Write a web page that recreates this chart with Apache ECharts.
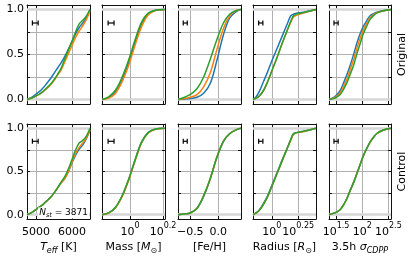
<!DOCTYPE html>
<html><head><meta charset="utf-8">
<script src="https://cdn.jsdelivr.net/npm/echarts@6/dist/echarts.min.js"></script>
<style>html,body{margin:0;padding:0;background:#fff}#c{width:415px;height:258px}</style>
</head><body><div id="c"></div><script>
// ---------------- data ----------------
const rowNames = ['Original', 'Control'];
const nStars = 3871;

const teffX = [4750, 4900, 5000, 5100, 5200, 5300, 5400, 5500, 5600, 5700, 5800, 5900, 6000, 6100, 6200, 6300, 6400, 6500];
const teffOrigBlue   = [0, 0.03, 0.06, 0.09, 0.13, 0.18, 0.23, 0.29, 0.35, 0.41, 0.48, 0.56, 0.64, 0.73, 0.80, 0.85, 0.91, 1.0];
const teffOrigOrange = [0, 0.02, 0.04, 0.06, 0.09, 0.12, 0.16, 0.21, 0.27, 0.33, 0.42, 0.51, 0.60, 0.69, 0.76, 0.82, 0.89, 0.98];
const teffOrigGreen  = [0, 0.02, 0.04, 0.06, 0.09, 0.13, 0.17, 0.22, 0.28, 0.35, 0.45, 0.55, 0.65, 0.75, 0.84, 0.88, 0.93, 1.0];
const teffCtrlBlue   = [0, 0.03, 0.06, 0.09, 0.12, 0.16, 0.20, 0.25, 0.31, 0.37, 0.42, 0.50, 0.60, 0.69, 0.76, 0.81, 0.88, 0.98];
const teffCtrlOrange = [0, 0.03, 0.06, 0.09, 0.12, 0.16, 0.20, 0.25, 0.31, 0.37, 0.42, 0.50, 0.61, 0.71, 0.78, 0.83, 0.89, 0.98];
const teffCtrlGreen  = [0, 0.03, 0.06, 0.09, 0.12, 0.16, 0.20, 0.25, 0.31, 0.38, 0.44, 0.53, 0.64, 0.75, 0.83, 0.86, 0.91, 1.0];
const teffTicks = [5000, 6000];
const teffTickLabels = ['5000', '6000'];
const teffErr = [4980, 80];

const massX = [-0.17, -0.13, -0.09, -0.05, -0.01, 0.03, 0.07, 0.11, 0.15, 0.21];
const massOrigBlue   = [0, 0.02, 0.08, 0.21, 0.40, 0.63, 0.84, 0.95, 0.99, 1.0];
const massOrigOrange = [0, 0.015, 0.065, 0.19, 0.37, 0.60, 0.81, 0.94, 0.985, 1.0];
const massOrigGreen  = [0, 0.03, 0.10, 0.24, 0.43, 0.66, 0.86, 0.96, 0.99, 1.0];
const massCtrlBlue   = [0, 0.02, 0.08, 0.21, 0.40, 0.63, 0.84, 0.95, 0.99, 1.0];
const massCtrlOrange = [0, 0.02, 0.075, 0.20, 0.39, 0.62, 0.83, 0.945, 0.985, 1.0];
const massCtrlGreen  = [0, 0.02, 0.08, 0.21, 0.40, 0.63, 0.84, 0.95, 0.99, 1.0];
const massTicks = [0, 0.2];           // log10 positions
const massTickLabels = ['0', '0.2'];  // exponents
const massErr = [-0.115, 0.018];

const fehX = [-0.72, -0.6, -0.5, -0.38, -0.26, -0.14, -0.02, 0.095, 0.21, 0.33, 0.41];
const fehOrigBlue   = [0, 0.005, 0.012, 0.025, 0.07, 0.18, 0.44, 0.72, 0.91, 0.98, 1.0];
const fehOrigOrange = [0, 0.01, 0.025, 0.055, 0.14, 0.30, 0.56, 0.79, 0.93, 0.99, 1.0];
const fehOrigGreen  = [0, 0.025, 0.056, 0.12, 0.25, 0.45, 0.67, 0.85, 0.95, 0.99, 1.0];
const fehCtrlBlue   = [0, 0.01, 0.02, 0.07, 0.21, 0.42, 0.67, 0.85, 0.94, 0.985, 1.0];
const fehCtrlOrange = [0, 0.01, 0.02, 0.075, 0.22, 0.42, 0.67, 0.85, 0.94, 0.985, 1.0];
const fehCtrlGreen  = [0, 0.01, 0.02, 0.075, 0.22, 0.42, 0.67, 0.85, 0.94, 0.985, 1.0];
const fehTicks = [-0.5, 0.0];
const fehTickLabels = ['\u22120.5', '0.0'];
const fehErr = [-0.59, 0.036];

const radX = [-0.18, -0.15, -0.12, -0.08, -0.04, 0.0, 0.05, 0.1, 0.15, 0.18, 0.21, 0.3, 0.42];
const radOrigBlue   = [0, 0.03, 0.09, 0.20, 0.31, 0.43, 0.57, 0.71, 0.85, 0.93, 0.95, 0.97, 1.0];
const radOrigOrange = [0, 0.015, 0.04, 0.10, 0.20, 0.32, 0.47, 0.63, 0.78, 0.86, 0.92, 0.96, 1.0];
const radOrigGreen  = [0, 0.015, 0.04, 0.10, 0.20, 0.32, 0.47, 0.63, 0.78, 0.87, 0.935, 0.965, 1.0];
const radCtrlBlue   = [0, 0.02, 0.055, 0.13, 0.22, 0.34, 0.49, 0.64, 0.78, 0.87, 0.94, 0.965, 1.0];
const radCtrlOrange = [0, 0.02, 0.05, 0.12, 0.21, 0.33, 0.48, 0.63, 0.78, 0.86, 0.935, 0.96, 1.0];
const radCtrlGreen  = [0, 0.02, 0.05, 0.12, 0.21, 0.33, 0.48, 0.63, 0.78, 0.87, 0.94, 0.965, 1.0];
const radTicks = [0, 0.25];
const radTickLabels = ['0', '0.25'];
const radErr = [-0.106, 0.02];

const cdppX = [1.365, 1.45, 1.51, 1.58, 1.64, 1.71, 1.77, 1.84, 1.9, 1.96, 2.02, 2.09, 2.15, 2.22, 2.28, 2.41, 2.55];
const cdppOrigBlue   = [0, 0.02, 0.05, 0.10, 0.18, 0.28, 0.38, 0.51, 0.63, 0.73, 0.81, 0.88, 0.93, 0.955, 0.97, 0.99, 1.0];
const cdppOrigOrange = [0, 0.015, 0.035, 0.075, 0.14, 0.23, 0.33, 0.45, 0.57, 0.68, 0.77, 0.85, 0.91, 0.945, 0.965, 0.985, 1.0];
const cdppOrigGreen  = [0, 0.01, 0.025, 0.055, 0.11, 0.19, 0.28, 0.39, 0.51, 0.62, 0.73, 0.82, 0.89, 0.935, 0.96, 0.985, 1.0];
const cdppCtrlBlue   = [0, 0.015, 0.03, 0.06, 0.11, 0.19, 0.28, 0.38, 0.48, 0.58, 0.68, 0.77, 0.84, 0.90, 0.94, 0.98, 1.0];
const cdppCtrlOrange = [0, 0.015, 0.03, 0.06, 0.11, 0.19, 0.28, 0.38, 0.48, 0.58, 0.68, 0.77, 0.84, 0.90, 0.94, 0.98, 1.0];
const cdppCtrlGreen  = [0, 0.015, 0.03, 0.06, 0.11, 0.19, 0.28, 0.38, 0.48, 0.58, 0.68, 0.77, 0.84, 0.90, 0.94, 0.98, 1.0];
const cdppTicks = [1.5, 2, 2.5];
const cdppTickLabels = ['1.5', '2', '2.5'];
const cdppErr = [1.5, 0.04];

const yTicks = [0, 0.25, 0.5, 0.75, 1.0];
const yLabelTicks = [0, 0.5, 1.0];
const errY = 0.85;

// ---------------- layout / style ----------------
const FONT = 'DejaVu Sans';
const COLORS = ['#1f77b4', '#ff7f0e', '#2ca02c'];
const colLeft = [27, 102, 178, 253, 329];
const colWidth = [63, 63, 63, 63, 62];
const rowTop = [5, 124];
const rowHeight = [99, 95];

const baseRich = {
  n: {fontSize: 11, fontFamily: FONT, color: '#000', lineHeight: 16, verticalAlign: 'middle'},
  i: {fontSize: 11, fontFamily: FONT, color: '#000', fontStyle: 'italic', lineHeight: 16, verticalAlign: 'middle'},
  sub: {fontSize: 8, fontFamily: FONT, color: '#000', lineHeight: 8, verticalAlign: 'bottom'},
  isub: {fontSize: 8, fontFamily: FONT, color: '#000', fontStyle: 'italic', lineHeight: 8, verticalAlign: 'bottom'},
  b: {fontSize: 11, fontFamily: FONT, color: '#000', lineHeight: 16, verticalAlign: 'bottom'},
  sup: {fontSize: 8, fontFamily: FONT, color: '#000', lineHeight: 8, verticalAlign: 'top'}
};

const cols = [
  {x: teffX, min: 4750, max: 6500, ticks: teffTicks, labels: teffTickLabels, log: false, err: teffErr,
   title: '{i|T}{isub|eff}{n| [K]}',
   data: [[teffOrigBlue, teffOrigOrange, teffOrigGreen], [teffCtrlBlue, teffCtrlOrange, teffCtrlGreen]]},
  {x: massX, min: -0.17, max: 0.212, ticks: massTicks, labels: massTickLabels, log: true, err: massErr,
   title: '{n|Mass [}{i|M}{sub|\u2299}{n|]}',
   data: [[massOrigBlue, massOrigOrange, massOrigGreen], [massCtrlBlue, massCtrlOrange, massCtrlGreen]]},
  {x: fehX, min: -0.72, max: 0.41, ticks: fehTicks, labels: fehTickLabels, log: false, err: fehErr,
   title: '{n|[Fe/H]}',
   data: [[fehOrigBlue, fehOrigOrange, fehOrigGreen], [fehCtrlBlue, fehCtrlOrange, fehCtrlGreen]]},
  {x: radX, min: -0.18, max: 0.42, ticks: radTicks, labels: radTickLabels, log: true, err: radErr,
   title: '{n|Radius [}{i|R}{sub|\u2299}{n|]}',
   data: [[radOrigBlue, radOrigOrange, radOrigGreen], [radCtrlBlue, radCtrlOrange, radCtrlGreen]]},
  {x: cdppX, min: 1.365, max: 2.55, ticks: cdppTicks, labels: cdppTickLabels, log: true, err: cdppErr,
   title: '{n|3.5h }{i|\u03c3}{isub|CDPP}',
   data: [[cdppOrigBlue, cdppOrigOrange, cdppOrigGreen], [cdppCtrlBlue, cdppCtrlOrange, cdppCtrlGreen]]}
];

const grids = [], xAxes = [], yAxes = [], series = [];
let g = 0;
for (let r = 0; r < 2; r++) {
  for (let c = 0; c < 5; c++) {
    const col = cols[c];
    grids.push({left: colLeft[c], top: rowTop[r], width: colWidth[c], height: rowHeight[r], containLabel: false, outerBoundsMode: 'none'});
    const fmt = (v) => {
      const k = col.ticks.findIndex(t => Math.abs(t - v) < 1e-9);
      const lab = k >= 0 ? col.labels[k] : '';
      return col.log ? '{b|10}{sup|' + lab + '}' : '{b|' + lab + '}';
    };
    xAxes.push({
      gridIndex: g, type: 'value', min: col.min, max: col.max, position: 'bottom',
      axisLine: {show: true, onZero: false, lineStyle: {color: '#111', width: 1}},
      axisTick: {show: true, inside: true, length: 3, customValues: col.ticks, lineStyle: {color: '#111'}},
      axisLabel: {show: r === 1, customValues: col.ticks, formatter: fmt, margin: 3, rich: baseRich, hideOverlap: false, showMinLabel: true, showMaxLabel: true},
      splitLine: {show: true, lineStyle: {color: '#b0b0b0', width: 1}},
      name: r === 1 ? col.title : '', nameLocation: 'middle', nameGap: 20,
      nameTextStyle: {rich: baseRich}
    });
    xAxes.push({
      gridIndex: g, type: 'value', min: col.min, max: col.max, position: 'top',
      axisLine: {show: true, onZero: false, lineStyle: {color: '#111', width: 1}},
      axisTick: {show: true, inside: true, length: 3, customValues: col.ticks, lineStyle: {color: '#111'}},
      axisLabel: {show: false}, splitLine: {show: false}
    });
    yAxes.push({
      gridIndex: g, type: 'value', min: -0.05, max: 1.05, position: 'left',
      axisLine: {show: true, onZero: false, lineStyle: {color: '#111', width: 1}},
      axisTick: {show: true, inside: true, length: 3, customValues: yTicks, lineStyle: {color: '#111'}},
      axisLabel: {show: c === 0, customValues: yLabelTicks, formatter: v => v.toFixed(1), margin: 3,
                  fontSize: 11, fontFamily: FONT, color: '#000'},
      splitLine: {show: true, lineStyle: {color: '#b0b0b0', width: 1}}
    });
    yAxes.push({
      gridIndex: g, type: 'value', min: -0.05, max: 1.05, position: 'right',
      axisLine: {show: true, onZero: false, lineStyle: {color: '#111', width: 1}},
      axisTick: {show: true, inside: true, length: 3, customValues: yTicks, lineStyle: {color: '#111'}},
      axisLabel: {show: false}, splitLine: {show: false}
    });
    const xi = g * 2, yi = g * 2;
    col.data[r].forEach((ys, s) => {
      const ser = {
        type: 'line', xAxisIndex: xi, yAxisIndex: yi,
        data: col.x.map((xv, i) => [xv, ys[i]]),
        showSymbol: false, symbol: 'none', smooth: 0.35,
        lineStyle: {color: COLORS[s], width: 1.5}, itemStyle: {color: COLORS[s]},
        z: 3 + s, silent: true
      };
      if (s === 0) {
        ser.markLine = {
          silent: true, symbol: 'none', z: 1, label: {show: false},
          lineStyle: {color: '#d6d6d6', width: 2.5, type: 'solid'},
          data: [{yAxis: 0}, {yAxis: 1}]
        };
      }
      series.push(ser);
    });
    series.push({
      type: 'custom', xAxisIndex: xi, yAxisIndex: yi, silent: true, z: 10,
      data: [[col.err[0], col.err[1], errY]],
      renderItem: (params, api) => {
        const cx = api.value(0), h = api.value(1), y = api.value(2);
        const p1 = api.coord([cx - h, y]), p2 = api.coord([cx + h, y]);
        const st = {stroke: '#000', lineWidth: 1.2};
        return {type: 'group', children: [
          {type: 'line', shape: {x1: p1[0], y1: p1[1], x2: p2[0], y2: p2[1]}, style: st},
          {type: 'line', shape: {x1: p1[0], y1: p1[1] - 2.5, x2: p1[0], y2: p1[1] + 2.5}, style: st},
          {type: 'line', shape: {x1: p2[0], y1: p2[1] - 2.5, x2: p2[0], y2: p2[1] + 2.5}, style: st}
        ]};
      }
    });
    g++;
  }
}

const graphics = [
  {type: 'text', x: 397, y: rowTop[0] + rowHeight[0] / 2, rotation: Math.PI / 2,
   style: {text: rowNames[0], fontSize: 11, fontFamily: FONT, fill: '#000', align: 'center', verticalAlign: 'top'}},
  {type: 'text', x: 397, y: rowTop[1] + rowHeight[1] / 2, rotation: Math.PI / 2,
   style: {text: rowNames[1], fontSize: 11, fontFamily: FONT, fill: '#000', align: 'center', verticalAlign: 'top'}},
  {type: 'text', x: 89, y: 213, z: 20,
   style: {text: '{i|N}{s|st}{n| = ' + nStars + '}', align: 'right', verticalAlign: 'middle',
           backgroundColor: '#fff', padding: [0, 1, 0, 1],
           rich: {
             i: {fontSize: 9, fontFamily: FONT, fontStyle: 'italic', fill: '#000', lineHeight: 11, verticalAlign: 'middle'},
             s: {fontSize: 6.5, fontFamily: FONT, fontStyle: 'italic', fill: '#000', lineHeight: 6, verticalAlign: 'bottom'},
             n: {fontSize: 9, fontFamily: FONT, fill: '#000', lineHeight: 11, verticalAlign: 'middle'}
           }}}
];

const chart = echarts.init(document.getElementById('c'), null, {renderer: 'canvas'});
chart.setOption({
  animation: false,
  backgroundColor: '#fff',
  textStyle: {fontFamily: FONT},
  grid: grids, xAxis: xAxes, yAxis: yAxes, series: series, graphic: graphics
});
</script></body></html>
